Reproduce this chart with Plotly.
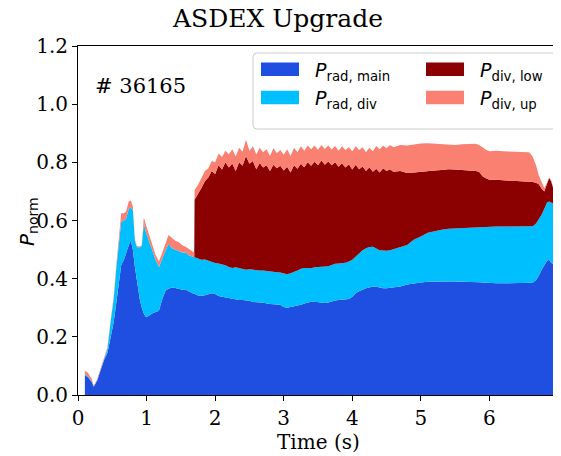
import plotly.graph_objects as go

# ---------------- data ----------------
time_s = [0.10, 0.15, 0.20, 0.23, 0.28, 0.33, 0.38, 0.43, 0.48, 0.52, 0.56, 0.60, 0.63, 0.67, 0.70,
          0.74, 0.77, 0.80, 0.83, 0.86, 0.90, 0.93, 0.96, 0.99, 1.03, 1.08, 1.13, 1.18, 1.23, 1.28,
          1.32, 1.37, 1.42, 1.47, 1.52, 1.57, 1.62, 1.67, 1.695,
          1.70, 1.75, 1.80, 1.85, 1.90, 1.95, 2.00, 2.05, 2.10, 2.15,
          2.20, 2.25, 2.30, 2.35, 2.40, 2.45, 2.50, 2.55, 2.60, 2.65,
          2.70, 2.75, 2.80, 2.85, 2.90, 2.95, 3.00, 3.05, 3.10, 3.15,
          3.20, 3.25, 3.30, 3.35, 3.40, 3.45, 3.50, 3.55, 3.60, 3.65,
          3.70, 3.75, 3.80, 3.85, 3.90, 3.95, 4.00, 4.05, 4.10, 4.15,
          4.20, 4.25, 4.30, 4.35, 4.40, 4.45, 4.50, 4.55, 4.60,
          4.70, 4.80, 4.90, 5.00, 5.10, 5.20, 5.30, 5.40, 5.50, 5.60,
          5.70, 5.80, 5.85, 5.90, 5.95, 6.00, 6.10, 6.20, 6.30, 6.40,
          6.50, 6.58, 6.63, 6.68, 6.72, 6.76, 6.80, 6.84, 6.87, 6.90,
          6.93, 6.96, 7.00]

p_rad_main = [0.069, 0.060, 0.045, 0.028, 0.050, 0.085, 0.120, 0.145, 0.200, 0.250, 0.320, 0.400, 0.447, 0.465, 0.490,
              0.515, 0.530, 0.500, 0.440, 0.384, 0.330, 0.300, 0.280, 0.268, 0.272, 0.280, 0.285, 0.290, 0.330, 0.360,
              0.365, 0.370, 0.368, 0.365, 0.362, 0.362, 0.355, 0.350, 0.348,
              0.348, 0.342, 0.341, 0.343, 0.346, 0.350, 0.347, 0.340, 0.338, 0.336,
              0.334, 0.331, 0.328, 0.327, 0.327, 0.326, 0.324, 0.320, 0.318, 0.318,
              0.317, 0.314, 0.313, 0.312, 0.311, 0.310, 0.303, 0.300, 0.303, 0.305,
              0.306, 0.310, 0.315, 0.318, 0.321, 0.321, 0.320, 0.318, 0.316, 0.318,
              0.322, 0.325, 0.327, 0.328, 0.329, 0.330, 0.338, 0.350, 0.357, 0.363,
              0.367, 0.370, 0.373, 0.372, 0.369, 0.367, 0.367, 0.368, 0.369,
              0.373, 0.380, 0.384, 0.387, 0.389, 0.390, 0.390, 0.390, 0.390, 0.390,
              0.389, 0.388, 0.388, 0.387, 0.386, 0.385, 0.384, 0.384, 0.384, 0.384,
              0.385, 0.386, 0.386, 0.395, 0.410, 0.430, 0.448, 0.462, 0.465, 0.455,
              0.450, 0.445, 0.440]

p_rad_div = [0.003, 0.003, 0.002, 0.001, 0.002, 0.003, 0.005, 0.015, 0.060, 0.080, 0.120, 0.140, 0.149, 0.135, 0.115,
             0.125, 0.115, 0.135, 0.090, 0.124, 0.178, 0.212, 0.310, 0.292, 0.263, 0.220, 0.180, 0.150, 0.140, 0.140,
             0.155, 0.135, 0.132, 0.130, 0.128, 0.128, 0.125, 0.126, 0.126,
             0.126, 0.126, 0.124, 0.123, 0.116, 0.106, 0.107, 0.112, 0.112, 0.110,
             0.106, 0.106, 0.111, 0.109, 0.105, 0.105, 0.108, 0.110, 0.111, 0.110,
             0.111, 0.112, 0.112, 0.111, 0.111, 0.111, 0.115, 0.115, 0.116, 0.118,
             0.122, 0.124, 0.122, 0.119, 0.115, 0.118, 0.120, 0.122, 0.125, 0.125,
             0.125, 0.126, 0.125, 0.125, 0.126, 0.129, 0.127, 0.126, 0.131, 0.135,
             0.138, 0.139, 0.137, 0.131, 0.129, 0.130, 0.129, 0.130, 0.133,
             0.137, 0.136, 0.151, 0.158, 0.169, 0.174, 0.178, 0.182, 0.183, 0.185,
             0.188, 0.190, 0.190, 0.192, 0.193, 0.194, 0.195, 0.195, 0.195, 0.195,
             0.194, 0.194, 0.194, 0.195, 0.193, 0.190, 0.192, 0.200, 0.200, 0.207,
             0.210, 0.210, 0.208]

p_div_low = [0.0] * 39 + [
             0.197, 0.222, 0.247, 0.269, 0.286, 0.314, 0.306, 0.338, 0.325, 0.354,
             0.342, 0.359, 0.331, 0.364, 0.356, 0.391, 0.363, 0.375, 0.347, 0.370,
             0.354, 0.364, 0.345, 0.369, 0.358, 0.367, 0.354, 0.370, 0.346, 0.367,
             0.350, 0.361, 0.346, 0.363, 0.352, 0.363, 0.350, 0.366, 0.351, 0.360,
             0.343, 0.349, 0.333, 0.344, 0.327, 0.334, 0.310, 0.316, 0.288, 0.288,
             0.265, 0.274, 0.258, 0.275, 0.267, 0.283, 0.274, 0.278, 0.266,
             0.260, 0.247, 0.230, 0.223, 0.212, 0.208, 0.206, 0.204, 0.202, 0.199,
             0.195, 0.192, 0.190, 0.173, 0.166, 0.161, 0.161, 0.160, 0.159, 0.158,
             0.156, 0.153, 0.152, 0.140, 0.122, 0.090, 0.060, 0.063, 0.081, 0.073,
             0.052, 0.030, 0.007]

p_div_up = [0.012, 0.012, 0.008, 0.002, 0.003, 0.002, 0.005, 0.005, 0.005, 0.006, 0.010, 0.020, 0.029, 0.025, 0.025,
            0.025, 0.025, 0.013, 0.005, 0.004, 0.003, 0.004, 0.021, 0.025, 0.018, 0.020, 0.017, 0.019, 0.020, 0.025,
            0.030, 0.035, 0.030, 0.030, 0.025, 0.020, 0.020, 0.017, 0.016,
            0.034, 0.032, 0.033, 0.035, 0.032, 0.035, 0.040, 0.040, 0.043, 0.040,
            0.046, 0.049, 0.050, 0.050, 0.048, 0.056, 0.045, 0.050, 0.052, 0.052,
            0.053, 0.055, 0.052, 0.056, 0.052, 0.054, 0.054, 0.060, 0.057, 0.060,
            0.057, 0.060, 0.057, 0.058, 0.057, 0.056, 0.053, 0.054, 0.054, 0.055,
            0.054, 0.056, 0.055, 0.058, 0.060, 0.059, 0.063, 0.063, 0.066, 0.066,
            0.065, 0.067, 0.070, 0.078, 0.080, 0.078, 0.078, 0.084, 0.084,
            0.090, 0.095, 0.097, 0.097, 0.096, 0.092, 0.088, 0.084, 0.085, 0.088,
            0.091, 0.094, 0.092, 0.098, 0.098, 0.098, 0.100, 0.099, 0.099, 0.099,
            0.101, 0.102, 0.088, 0.060, 0.030, 0.020, 0.012, 0.005, 0.002, 0.003,
            0.003, 0.003, 0.001]

series_names = ["<i>P</i><sub>rad, main</sub>", "<i>P</i><sub>rad, div</sub>",
                "<i>P</i><sub>div, low</sub>", "<i>P</i><sub>div, up</sub>"]
series_colors = ["#1f4fe0", "#00bfff", "#8b0000", "#fa8072"]

x_ticks = [0, 1, 2, 3, 4, 5, 6, 7]
y_ticks = [0.0, 0.2, 0.4, 0.6, 0.8, 1.0, 1.2]
y_tick_labels = ["0.0", "0.2", "0.4", "0.6", "0.8", "1.0", "1.2"]

shot_label = "# 36165"
title_text = "ASDEX Upgrade"

# ---------------- figure ----------------
OFF = 8  # page body margin of the html document
W, H = 561 - OFF, 456 - OFF
ML, MR, MT, MB = 78 - OFF, 3, 46 - OFF, 61
PW, PH = W - ML - MR, H - MT - MB


def px_x(px):
    return (px - OFF - ML) / PW


def px_y(py):
    return (H - MB - (py - OFF)) / PH


fig = go.Figure()
for vals, name, col in zip([p_rad_main, p_rad_div, p_div_low, p_div_up], series_names, series_colors):
    fig.add_trace(go.Scatter(x=time_s, y=vals, name=name, stackgroup="one", mode="lines",
                             line=dict(width=0, color=col), fillcolor=col,
                             hoverinfo="skip", showlegend=False))

serif = "DejaVu Serif"
sans = "DejaVu Sans"

fig.update_layout(
    width=W, height=H,
    margin=dict(l=ML, r=MR, t=MT, b=MB, autoexpand=False),
    paper_bgcolor="white", plot_bgcolor="white",
    showlegend=False,
    xaxis=dict(range=[0, 7], tickvals=x_ticks, showline=True, linecolor="black", linewidth=1,
               mirror=True, ticks="outside", ticklen=5, tickwidth=1, tickcolor="black",
               ticklabeloverflow="allow", automargin=False,
               tickfont=dict(family=serif, size=20, color="black"), showgrid=False, zeroline=False),
    yaxis=dict(range=[0, 1.2], tickvals=y_ticks, ticktext=y_tick_labels, showline=True,
               linecolor="black", linewidth=1, mirror=True, ticks="outside", ticklen=5, tickwidth=1,
               tickcolor="black", tickfont=dict(family=serif, size=20, color="black"),
               automargin=False, showgrid=False, zeroline=False),
)

annotations = [
    dict(text=title_text, x=px_x(277), y=px_y(19), xref="paper", yref="paper", showarrow=False,
         xanchor="center", yanchor="middle", borderpad=0,
         font=dict(family=serif, size=25, color="black")),
    dict(text="Time (s)", x=px_x(318), y=px_y(442), xref="paper", yref="paper", showarrow=False,
         xanchor="center", yanchor="middle", font=dict(family=serif, size=20, color="black")),
    dict(text="<i>P</i><sub>norm</sub>", x=px_x(28), y=px_y(222), xref="paper", yref="paper",
         showarrow=False, textangle=-90, xanchor="center", yanchor="middle",
         font=dict(family=sans, size=20, color="black")),
    dict(text=shot_label, x=px_x(93), y=px_y(86), xref="paper", yref="paper", showarrow=False,
         xanchor="left", yanchor="middle", font=dict(family=serif, size=21, color="black")),
]

shapes = []
# legend frame (rounded)
bx0, bx1, by0, by1, r = 253, 556, 53, 129, 4
path = (f"M {px_x(bx0 + r)},{px_y(by0)} L {px_x(bx1 - r)},{px_y(by0)} "
        f"Q {px_x(bx1)},{px_y(by0)} {px_x(bx1)},{px_y(by0 + r)} "
        f"L {px_x(bx1)},{px_y(by1 - r)} Q {px_x(bx1)},{px_y(by1)} {px_x(bx1 - r)},{px_y(by1)} "
        f"L {px_x(bx0 + r)},{px_y(by1)} Q {px_x(bx0)},{px_y(by1)} {px_x(bx0)},{px_y(by1 - r)} "
        f"L {px_x(bx0)},{px_y(by0 + r)} Q {px_x(bx0)},{px_y(by0)} {px_x(bx0 + r)},{px_y(by0)} Z")
shapes.append(dict(type="path", path=path, xref="paper", yref="paper",
                   line=dict(color="#cccccc", width=1), fillcolor="rgba(255,255,255,0.8)"))

entry_pos = [(261, 62.5), (261, 90.7), (426, 62.5), (426, 90.7)]
for (ex, ey), name, col in zip(entry_pos, series_names, series_colors):
    shapes.append(dict(type="rect", xref="paper", yref="paper",
                       x0=px_x(ex), x1=px_x(ex + 38), y0=px_y(ey + 13.5), y1=px_y(ey),
                       line=dict(width=0), fillcolor=col))
    annotations.append(dict(text=name, x=px_x(ex + 52), y=px_y(ey + 9), xref="paper", yref="paper",
                            showarrow=False, xanchor="left", yanchor="middle",
                            font=dict(family=sans, size=19, color="black")))

fig.update_layout(annotations=annotations, shapes=shapes)

fig.write_html("out.html")
